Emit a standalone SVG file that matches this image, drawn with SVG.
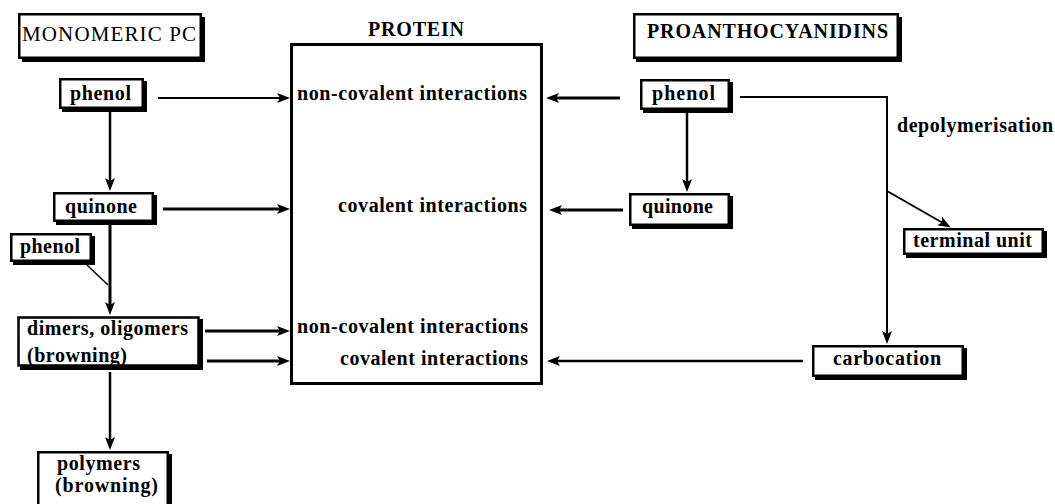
<svg xmlns="http://www.w3.org/2000/svg" width="1055" height="504" viewBox="0 0 1055 504">
<style>
text{font-family:"Liberation Serif","Times New Roman",serif;font-size:20px;font-weight:bold;fill:#000}
.t{font-weight:normal;font-size:21px}
.sh{fill:#000}
.bx{fill:#fff;stroke:#000;stroke-width:2.5}
.c{fill:none;stroke:#000}
</style>
<defs>
<marker id="ah" viewBox="0 0 13 10" refX="4" refY="5" markerWidth="13" markerHeight="10" markerUnits="userSpaceOnUse" orient="auto">
<path d="M0,0 L13,5 L0,10 L3,5 z" fill="#000"/>
</marker>
</defs>
<rect width="1055" height="504" fill="#fff"/>

<g id="connectors">
<line class="c" x1="158" y1="98" x2="281" y2="98" stroke-width="2" marker-end="url(#ah)"/>
<line class="c" x1="110" y1="112" x2="110" y2="182" stroke-width="2.5" marker-end="url(#ah)"/>
<line class="c" x1="163" y1="209" x2="281" y2="209" stroke-width="3" marker-end="url(#ah)"/>
<line class="c" x1="110" y1="225" x2="110" y2="306" stroke-width="3" marker-end="url(#ah)"/>
<line class="c" x1="87" y1="265" x2="108" y2="285" stroke-width="1.5"/>
<line class="c" x1="205" y1="331" x2="281" y2="331" stroke-width="3" marker-end="url(#ah)"/>
<line class="c" x1="207" y1="361" x2="281" y2="361" stroke-width="3" marker-end="url(#ah)"/>
<line class="c" x1="110" y1="372" x2="110" y2="441" stroke-width="2.5" marker-end="url(#ah)"/>
<line class="c" x1="620" y1="98" x2="555" y2="98" stroke-width="3" marker-end="url(#ah)"/>
<line class="c" x1="687" y1="113" x2="687" y2="183" stroke-width="2.5" marker-end="url(#ah)"/>
<line class="c" x1="623" y1="210" x2="558" y2="210" stroke-width="3" marker-end="url(#ah)"/>
<polyline class="c" points="740,97 887,97 887,335" stroke-width="2" marker-end="url(#ah)"/>
<line class="c" x1="887" y1="191" x2="943" y2="223" stroke-width="2" marker-end="url(#ah)"/>
<line class="c" x1="803" y1="361" x2="556" y2="361" stroke-width="2.5" marker-end="url(#ah)"/>
</g>

<g id="protein">
<text x="368" y="36" textLength="96" lengthAdjust="spacing">PROTEIN</text>
<rect x="291.5" y="44.5" width="250" height="339" fill="none" stroke="#000" stroke-width="3"/>
<text x="297" y="100" textLength="230" lengthAdjust="spacing">non-covalent interactions</text>
<text x="338" y="212" textLength="189" lengthAdjust="spacing">covalent interactions</text>
<text x="297" y="333" textLength="231" lengthAdjust="spacing">non-covalent interactions</text>
<text x="340" y="365" textLength="188" lengthAdjust="spacing">covalent interactions</text>
</g>

<g id="monomeric-pc">
<rect class="sh" x="22" y="17" width="183" height="45"/>
<rect class="bx" x="19.25" y="14.25" width="181.5" height="43.5"/>
<text class="t" x="22" y="41" textLength="174" lengthAdjust="spacing">MONOMERIC PC</text>
</g>

<g id="phenol-left">
<rect class="sh" x="62" y="81" width="85" height="31"/>
<rect class="bx" x="60.25" y="79.25" width="82.5" height="28.5"/>
<text x="70" y="100" textLength="61" lengthAdjust="spacing">phenol</text>
</g>

<g id="quinone-left">
<rect class="sh" x="56" y="195" width="101" height="30"/>
<rect class="bx" x="54.25" y="193.25" width="98.5" height="27.5"/>
<text x="65" y="213" textLength="72" lengthAdjust="spacing">quinone</text>
</g>

<g id="phenol-small">
<rect class="sh" x="13" y="236" width="82" height="29"/>
<rect class="bx" x="11.25" y="234.25" width="79.5" height="26.5"/>
<text x="20" y="253" textLength="60" lengthAdjust="spacing">phenol</text>
</g>

<g id="dimers">
<rect class="sh" x="20" y="319" width="183" height="51"/>
<rect class="bx" x="18.5" y="317.5" width="180" height="48" stroke-width="3"/>
<text x="27" y="335" textLength="161" lengthAdjust="spacing">dimers, oligomers</text>
<text x="27" y="362" textLength="100" lengthAdjust="spacing">(browning)</text>
</g>

<g id="polymers">
<rect class="sh" x="40" y="454" width="132" height="60"/>
<rect class="bx" x="38.25" y="452.25" width="129.5" height="57.5"/>
<text x="57" y="470" textLength="83" lengthAdjust="spacing">polymers</text>
<text x="55" y="492" textLength="103" lengthAdjust="spacing">(browning)</text>
</g>

<g id="proanthocyanidins">
<rect class="sh" x="636" y="17" width="266" height="45"/>
<rect class="bx" x="634.25" y="14.25" width="263.5" height="43.5"/>
<text x="647" y="38" textLength="241" lengthAdjust="spacing">PROANTHOCYANIDINS</text>
</g>

<g id="phenol-right">
<rect class="sh" x="643" y="82" width="90" height="31"/>
<rect class="bx" x="641.25" y="80.25" width="87.5" height="28.5"/>
<text x="652" y="100" textLength="63" lengthAdjust="spacing">phenol</text>
</g>

<g id="quinone-right">
<rect class="sh" x="632" y="196" width="101" height="33"/>
<rect class="bx" x="630.25" y="194.25" width="98.5" height="30.5"/>
<text x="642" y="213" textLength="71" lengthAdjust="spacing">quinone</text>
</g>

<g id="depolymerisation">
<text x="897" y="132" textLength="156" lengthAdjust="spacing">depolymerisation</text>
</g>

<g id="terminal-unit">
<rect class="sh" x="906" y="231" width="141" height="27"/>
<rect class="bx" x="904.25" y="229.25" width="138.5" height="24.5"/>
<text x="913" y="247" textLength="119" lengthAdjust="spacing">terminal unit</text>
</g>

<g id="carbocation">
<rect class="sh" x="815" y="348" width="152" height="32"/>
<rect class="bx" x="813.25" y="346.25" width="149.5" height="29.5"/>
<text x="833" y="365" textLength="108" lengthAdjust="spacing">carbocation</text>
</g>
</svg>
